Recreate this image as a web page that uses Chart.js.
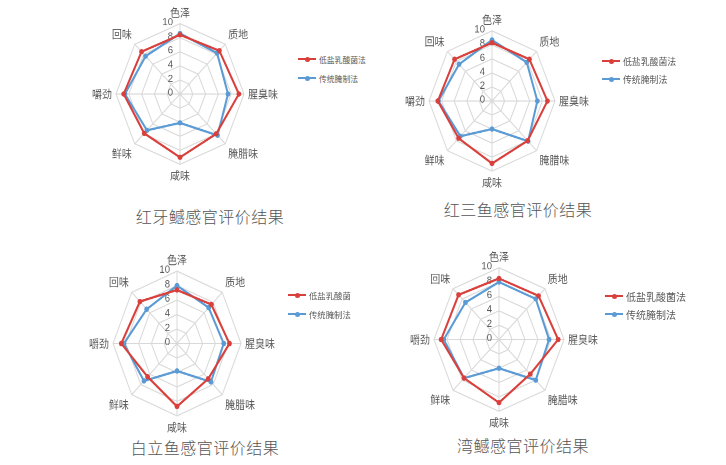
<!DOCTYPE html>
<html><head><meta charset="utf-8">
<script src="https://cdn.jsdelivr.net/npm/chart.js@4.4.1/dist/chart.umd.min.js"></script>
<style>
body{margin:0;background:#fff;width:726px;height:465px;position:relative;overflow:hidden;font-family:"Noto Sans CJK SC","Noto Sans",sans-serif;}
.box{position:absolute;}
.title{position:absolute;font-size:16px;color:#555;white-space:nowrap;transform:translate(-50%,-50%);letter-spacing:0.5px;font-weight:300;}
.legend{position:absolute;color:#595959;white-space:nowrap;overflow:hidden;}
.row{position:absolute;left:0;display:flex;align-items:center;height:14px;}
.sw{position:relative;width:18px;height:2px;margin-right:3px;flex:none;}
.sw i{position:absolute;left:7px;top:-1.5px;width:5px;height:5px;border-radius:50%;}
</style></head><body>
<script>
const categories = ['色泽','质地','腥臭味','腌腊味','咸味','鲜味','嚼劲','回味'];
const seriesNames = ['低盐乳酸菌法','传统腌制法'];
const tickValues = [0,2,4,6,8,10];
const titles = ['红牙鳡感官评价结果','红三鱼感官评价结果','白立鱼感官评价结果','湾鳡感官评价结果'];
const hongYaGanLowSalt = [8.4,8.7,9.2,8.0,9.0,7.9,8.8,8.5];
const hongYaGanTraditional = [8.6,8.2,7.5,8.3,4.1,7.3,8.6,7.6];
const hongSanYuLowSalt = [8.3,8.4,8.8,8.0,8.9,7.5,8.6,8.4];
const hongSanYuTraditional = [8.7,7.8,7.2,8.1,4.0,7.1,8.5,7.4];
const baiLiYuLowSalt = [7.4,7.6,8.2,6.9,8.7,6.5,8.7,8.2];
const baiLiYuTraditional = [8.0,7.0,7.3,7.5,3.8,7.3,8.3,6.7];
const wanGanLowSalt = [8.5,8.6,9.1,6.8,8.8,7.6,8.9,8.8];
const wanGanTraditional = [8.0,8.0,7.7,8.0,4.0,7.6,8.5,7.3];

const RED = '#D9403C', BLUE = '#5B9BD5';
const colors = [RED, BLUE];

// cx,cy: plot centre on page; h: internal canvas height; s: vertical stretch of the picture
const panels = [
  {low: hongYaGanLowSalt, trad: hongYaGanTraditional, cx:180, cy:94, h:160, s:1.10, title:{x:210,y:216}, leg:{x:298,y:52,fs:7.8,dy:19,w:80}},
  {low: hongSanYuLowSalt, trad: hongSanYuTraditional, cx:492, cy:101, h:158, s:1.12, title:{x:518,y:209}, leg:{x:602,y:54,fs:8.9,dy:18,w:100}},
  {low: baiLiYuLowSalt, trad: baiLiYuTraditional, cx:177, cy:343.5, h:160, s:1.13, title:{x:205,y:447}, leg:{x:288,y:288,fs:8.4,dy:19,w:63}},
  {low: wanGanLowSalt, trad: wanGanTraditional, cx:499, cy:339.5, h:162, s:1.105, title:{x:523,y:445}, leg:{x:605,y:289,fs:10,dy:18,w:110}}
];
const W = 230;

const tickPlugin = {
  id:'leftTicks',
  beforeDatasetsDraw(chart){
    const s = chart.scales.r, ctx = chart.ctx;
    ctx.save();
    ctx.font = '9.5px "Liberation Sans","Noto Sans",sans-serif';
    ctx.fillStyle = '#595959';
    ctx.textAlign = 'right';
    ctx.textBaseline = 'middle';
    s.ticks.forEach(t => {
      const d = s.getDistanceFromCenterForValue(t.value);
      ctx.fillText(String(t.value), s.xCenter - 7, s.yCenter - d - 1);
    });
    ctx.restore();
  }
};

panels.forEach((p, idx) => {
  const c = document.createElement('canvas');
  c.className = 'box';
  const dispH = p.h * p.s;
  c.setAttribute('width', W);
  c.setAttribute('height', p.h);
  c.style.left = (p.cx - W / 2) + 'px';
  c.style.top = (p.cy - dispH / 2) + 'px';
  c.style.width = W + 'px';
  c.style.height = dispH + 'px';
  document.body.appendChild(c);
  new Chart(c, {
    type: 'radar',
    data: {
      labels: categories,
      datasets: [p.low, p.trad].map((vals, i) => ({
        label: seriesNames[i],
        data: vals,
        borderColor: colors[i],
        backgroundColor: colors[i],
        borderWidth: 2,
        pointRadius: 2.4,
        pointHoverRadius: 2.4,
        pointBorderWidth: 0,
        fill: false,
        tension: 0
      }))
    },
    options: {
      responsive: false,
      devicePixelRatio: 2,
      animation: false,
      events: [],
      layout: {padding: 0},
      plugins: {legend: {display: false}, tooltip: {enabled: false}},
      scales: {
        r: {
          min: 0, max: 10,
          afterBuildTicks: (s) => { s.ticks = tickValues.map(v => ({value: v})); },
          ticks: {display: false, stepSize: 2},
          grid: {color: '#D9D9D9', lineWidth: 1, circular: false},
          angleLines: {color: '#D9D9D9', lineWidth: 1},
          pointLabels: {color: '#595959', padding: 4, font: {size: 10, family: '"Noto Sans CJK SC", sans-serif'}}
        }
      }
    },
    plugins: [tickPlugin]
  });

  const t = document.createElement('div');
  t.className = 'title';
  t.style.left = p.title.x + 'px'; t.style.top = p.title.y + 'px';
  t.textContent = titles[idx];
  document.body.appendChild(t);

  const lg = document.createElement('div');
  lg.className = 'legend';
  lg.style.left = p.leg.x + 'px'; lg.style.top = p.leg.y + 'px';
  lg.style.width = p.leg.w + 'px'; lg.style.height = (p.leg.dy + 16) + 'px';
  lg.style.fontSize = p.leg.fs + 'px';
  seriesNames.forEach((n, i) => {
    const r = document.createElement('div');
    r.className = 'row';
    r.style.top = (i * p.leg.dy) + 'px';
    const sw = document.createElement('span');
    sw.className = 'sw';
    sw.style.background = colors[i];
    const mk = document.createElement('i');
    mk.style.background = colors[i];
    sw.appendChild(mk);
    r.appendChild(sw);
    const tx = document.createElement('span');
    tx.textContent = n;
    r.appendChild(tx);
    lg.appendChild(r);
  });
  document.body.appendChild(lg);
});
</script>
</body></html>
